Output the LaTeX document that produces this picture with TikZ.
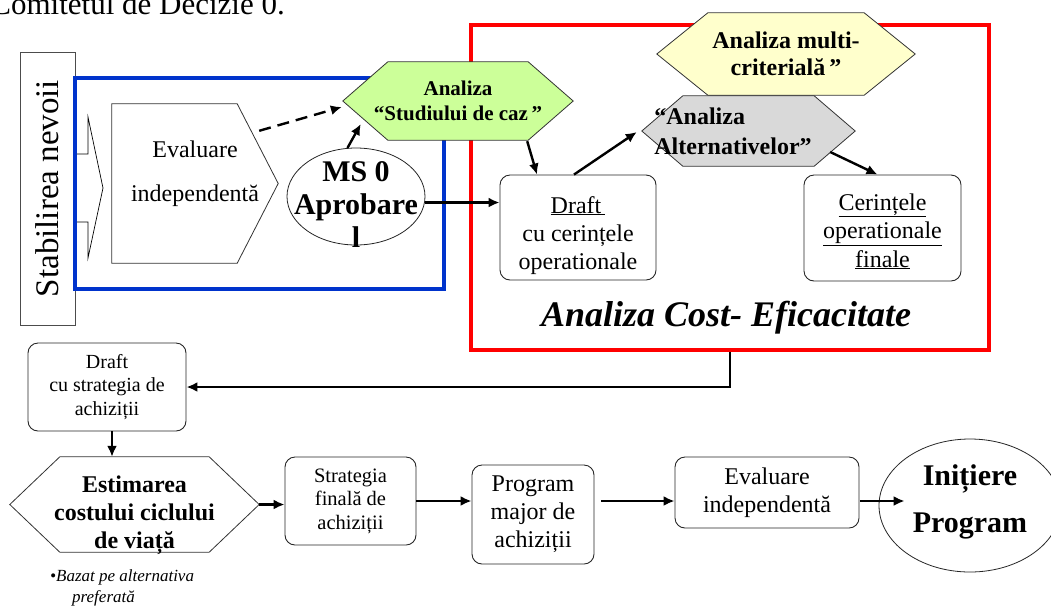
\documentclass[tikz,border=0pt]{standalone}
\usepackage{fontspec}
\setmainfont{Liberation Serif}
\usetikzlibrary{shapes, arrows.meta, positioning}

\definecolor{frameblue}{RGB}{0,51,204}
\definecolor{hexgreen}{RGB}{204,255,153}
\definecolor{hexyellow}{RGB}{255,255,204}
\definecolor{hexgray}{RGB}{217,217,217}

\tikzstyle{box}     = [draw=black!85, line width=0.9pt, rounded corners=10pt, align=center]
\tikzstyle{frame}   = [draw, line width=3.5pt, inner sep=0pt]
\tikzstyle{shp}     = [inner sep=0pt, align=center]
\tikzstyle{oval}    = [ellipse, draw=black!85, line width=0.8pt, fill=white, inner sep=0pt]
\tikzstyle{arr}     = [every edge/.style={draw, line width=2.4pt, -{Latex[length=11pt,width=10pt]}}]
\tikzstyle{hexline} = [draw=black!80, line width=0.8pt]

\pgfdeclarelayer{frames}
\pgfdeclarelayer{hexes}
\pgfsetlayers{frames,hexes,main}

\newcommand{\fsz}[2]{\fontsize{#1}{#2}\selectfont}
\newcommand{\hexdraw}[3]{%
  \draw [hexline, fill=#3] (#1.west) -- ([shift={(#2,0)}]#1.north west) -- ([shift={(-#2,0)}]#1.north east)
    -- (#1.east) -- ([shift={(-#2,0)}]#1.south east) -- ([shift={(#2,0)}]#1.south west) -- cycle;}

\begin{document}
\begin{tikzpicture}[x=1pt, y=-1pt]

\useasboundingbox (0,0) rectangle (1051,606);

% frames
\begin{pgfonlayer}{frames}
\node [draw=black!70, line width=0.8pt, rotate=90, minimum width=273pt, minimum height=55pt, font=\fsz{33}{36}] at ( 47.5, 188.5) (needs) {Stabilirea nevoii};
\node [frame, draw=frameblue, line width=3.2pt, minimum width=369pt, minimum height=211pt]          at (259.5, 183.5) (eval0) {};
\node [frame, draw=red, minimum width=518pt, minimum height=325pt]                                  at (730  , 187.5) (cost)  {};
\end{pgfonlayer}

% nodes
\node [anchor=base east, inner sep=0pt, font=\fsz{31}{34}]                               at (285  ,  14  ) (title)   {Comitetul de Decizie 0.};
\node [shp, minimum width=166pt, minimum height=159pt, text depth=24pt, font=\fsz{24}{44}] at (195  , 183.5) (indep)   {Evaluare\\independentă};
\node [oval, minimum width=138pt, minimum height=97pt]                                   at (356  , 196.5) (ms)      {};
\node [align=center, font=\bfseries\fsz{30}{33}]                                          at (356  , 205  ) (mstext)  {MS 0\\Aprobare\\l};
\node [shp, minimum width=230pt, minimum height=78pt, font=\bfseries\fsz{21}{25}]         at (458  , 101  ) (case)    {Analiza\\“Studiului de caz\,”};
\node [shp, minimum width=258pt, minimum height=82pt, font=\bfseries\fsz{24}{27}]         at (786  ,  54  ) (multi)   {Analiza multi-\\criterială\,”};
\node [shp, align=left, minimum width=213pt, minimum height=70pt, font=\bfseries\fsz{24}{30}] at (748.5, 131 ) (alt)   {“Analiza\\Alternativelor”\hspace*{31pt}};
\node [box, minimum width=156pt, minimum height=105pt, text height=83pt, text depth=0pt, font=\fsz{24}{28}] at (578, 227.5) (reqd) {\underline{Draft\,}\\cu cerințele\\operationale};
\node [box, minimum width=157pt, minimum height=106pt, text height=78pt, text depth=0pt, font=\fsz{24}{28.5}] at (882.5, 228) (reqf) {\underline{Cerințele}\\\underline{operationale}\\\underline{finale}};
\node [font=\bfseries\itshape\fsz{36}{40}]                                                at (726  , 318  ) (costlbl) {Analiza Cost- Eficacitate};
\node [box, minimum width=158pt, minimum height=88pt, font=\fsz{20}{23.5}]                 at (107  , 387  ) (drafts)  {Draft\\cu strategia de\\achiziții};
\node [shp, minimum width=249pt, minimum height=95pt, text height=88pt, text depth=0pt, font=\bfseries\fsz{24}{28}] at (134.5, 504.5) (lcc) {Estimarea\\costului ciclului\\de viață};
\node [anchor=base west, inner sep=0pt, align=left, font=\itshape\fsz{17}{21}]           at ( 50  , 602  ) (pref)    {•Bazat pe alternativa\\\hspace*{22pt}preferată};
\node [box, minimum width=131pt, minimum height=88pt, font=\fsz{20.5}{23.5}]               at (350.5, 501  ) (strat)   {Strategia\\finală de\\achiziții};
\node [box, minimum width=122pt, minimum height=99pt, font=\fsz{24}{28}]                   at (533  , 514.5) (major)   {Program\\major de\\achiziții};
\node [box, minimum width=184pt, minimum height=71pt, font=\fsz{24}{28}]                   at (767  , 492.5) (indep2)  {Evaluare\\independentă};
\node [oval, minimum width=182pt, minimum height=133pt]                                   at (970  , 505.5) (start)   {};
\node [align=center, font=\bfseries\fsz{30}{47}]                                          at (970  , 502  ) (starttext) {Inițiere\\Program};

% shapes
\begin{pgfonlayer}{hexes}
\hexdraw{case}{45}{hexgreen}
\hexdraw{multi}{51}{hexyellow}
\hexdraw{alt}{41}{hexgray}
\hexdraw{lcc}{50}{white}
\draw [hexline, fill=white] (indep.north west) -- ([shift={(-41,0)}]indep.north east) -- (indep.east)
  -- ([shift={(-41,0)}]indep.south east) -- (indep.south west) -- cycle;
\end{pgfonlayer}
\draw [line width=0.7pt] (77,154) -- (88,154) -- (88,117) -- (103,188) -- (88,258) -- (88,222) -- (77,222);

% edges
\path [arr]
  ([shift={(-19,27)}]indep.north east) edge [dash pattern=on 12pt off 7pt] ([shift={(-1,6)}]case.west)
  (ms.100)                             edge                                ([shift={(18,23)}]case.west)
  (ms.-5)                              edge                                (ms.-5 -| reqd.west)
  ([shift={(-46,1)}]case.south east)   edge                                ([shift={(-41,0)}]reqd.north)
  ([shift={(-4,0)}]reqd.north)         edge                                ([shift={(-5,1)}]alt.west)
  ([shift={(-25,21)}]alt.east)         edge                                ([shift={(-5,0)}]reqf.north)
  (cost.south)                         edge [to path={|- (\tikztotarget)}] (drafts.east)
  ([shift={(5,0)}]drafts.south)        edge                                ([shift={(5,0)}]drafts.south |- lcc.north)
  (lcc.east)                           edge                                (lcc.east -| strat.west)
  (strat.east)                         edge                                (strat.east -| major.west)
  ([shift={(7,-13.5)}]major.east)      edge                                ([shift={(0,8.5)}]indep2.west)
  ([shift={(0.5,8.5)}]indep2.east)     edge                                ([shift={(26,-4.5)}]start.west);

\end{tikzpicture}
\end{document}
